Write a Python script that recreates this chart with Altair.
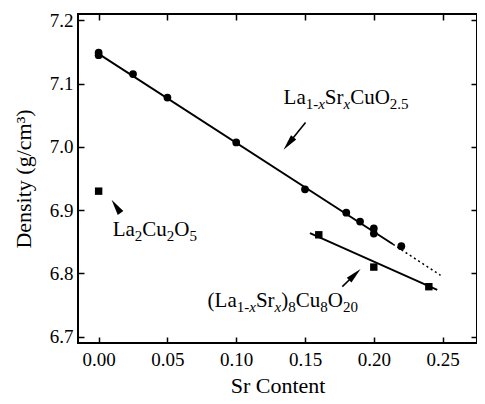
import math
import altair as alt
import pandas as pd

# ---------------- data ----------------
circ_x = [0.0, 0.0, 0.025, 0.05, 0.10, 0.15, 0.18, 0.19, 0.20, 0.20, 0.22]
circ_y = [7.149, 7.145, 7.115, 7.078, 7.007, 6.933, 6.896, 6.882, 6.871, 6.863, 6.843]

sq_x = [0.0, 0.16, 0.20, 0.24]
sq_y = [6.930, 6.861, 6.810, 6.779]

fit1_x = [0.0, 0.214]
fit1_y = [7.147, 6.846]
dot_x = [0.214, 0.2485]
dot_y = [6.846, 6.797]
fit2_x = [0.1536, 0.2461]
fit2_y = [6.8638, 6.7738]

x_ticks = [0.0, 0.05, 0.10, 0.15, 0.20, 0.25]
y_ticks = [6.7, 6.8, 6.9, 7.0, 7.1, 7.2]

# arrows: tail -> tip (data coords)
arrow_tail_x = [0.1504, 0.0153, 0.1771]
arrow_tail_y = [7.0385, 6.8975, 6.779]
arrow_tip_x = [0.1344, 0.0094, 0.1904]
arrow_tip_y = [6.9954, 6.9164, 6.807]

# labels (segments: text, kind) ; anchors in data coords (left / baseline)
label_x = [0.1344, 0.0102, 0.0792]
label_y = [7.068, 6.8596, 6.7474]
label_segments = [
    [("La", "main"), ("1-", "sub"), ("x", "subit"), ("Sr", "main"), ("x", "subit"),
     ("CuO", "main"), ("2.5", "sub")],
    [("La", "main"), ("2", "sub"), ("Cu", "main"), ("2", "sub"), ("O", "main"), ("5", "sub")],
    [("(La", "main"), ("1-", "sub"), ("x", "subit"), ("Sr", "main"), ("x", "subit"),
     (")", "main"), ("8", "sub"), ("Cu", "main"), ("8", "sub"), ("O", "main"), ("20", "sub")],
]

# ---------------- geometry ----------------
XMIN, XMAX = -0.015, 0.275
YMIN, YMAX = 6.69, 7.21
W, H = 399, 329
PX = W / (XMAX - XMIN)
PY = H / (YMAX - YMIN)

FONT = "Liberation Serif"
MAIN_FS = 21
SUB_FS = 15
SUB_DY = 5

# Times / Liberation Serif advance widths (em)
WID = {"L": .611, "a": .444, "S": .556, "r": .333, "C": .667, "u": .5, "O": .722,
       ".": .25, "-": .333, "(": .333, ")": .333, "x": .444}
for d in "0123456789":
    WID[d] = .5


def text_width(s, fs):
    return sum(WID.get(c, .5) for c in s) * fs


rows = []
for lx, ly, segs in zip(label_x, label_y, label_segments):
    cum = 0.0
    for txt, kind in segs:
        fs = MAIN_FS if kind == "main" else SUB_FS
        rows.append({"x": lx + cum / PX, "y": ly, "t": txt, "kind": kind})
        cum += text_width(txt, fs)
seg_df = pd.DataFrame(rows)

HEAD_L = 16
heads, shafts = [], []
for tx, ty, px_, py_ in zip(arrow_tail_x, arrow_tail_y, arrow_tip_x, arrow_tip_y):
    dx = (px_ - tx) * PX
    dy = -(py_ - ty) * PY
    n = math.hypot(dx, dy)
    ux, uy = dx / n, dy / n
    cx = px_ - (HEAD_L / 2) * ux / PX
    cy = py_ + (HEAD_L / 2) * uy / PY
    ang = math.degrees(math.atan2(ux, -uy)) % 360
    heads.append({"x": cx, "y": cy, "a": ang})
    shafts.append({"x": tx, "y": ty, "x2": cx, "y2": cy})
head_df = pd.DataFrame(heads)
shaft_df = pd.DataFrame(shafts)

xs = alt.Scale(domain=[XMIN, XMAX], nice=False, zero=False)
ys = alt.Scale(domain=[YMIN, YMAX], nice=False, zero=False)

common = dict(domain=False, grid=False, tickSize=6, offset=-6, tickWidth=1.5,
              tickColor="black", labelFont=FONT, labelColor="black",
              titleFont=FONT, titleColor="black", titleFontWeight="normal")

x_bottom = alt.Axis(values=x_ticks, format=".2f", labelFontSize=19, labelPadding=7,
                    titleFontSize=22, titlePadding=23, titleBaseline="alphabetic", **common)
y_left = alt.Axis(values=y_ticks, format=".1f", labelFontSize=19, labelPadding=5,
                  titleFontSize=22, titlePadding=14, **common)
x_top = alt.Axis(orient="top", values=x_ticks, labels=False, **common)
y_right = alt.Axis(orient="right", values=y_ticks, labels=False, **common)

circ_df = pd.DataFrame({"x": circ_x, "y": circ_y})
sq_df = pd.DataFrame({"x": sq_x, "y": sq_y})
f1 = pd.DataFrame({"x": fit1_x, "y": fit1_y})
fd = pd.DataFrame({"x": dot_x, "y": dot_y})
f2 = pd.DataFrame({"x": fit2_x, "y": fit2_y})


def X(axis=None, title=None):
    if axis is None:
        return alt.X("x:Q", scale=xs, axis=None)
    return alt.X("x:Q", scale=xs, axis=axis, title=title)


def Y(axis=None, title=None):
    if axis is None:
        return alt.Y("y:Q", scale=ys, axis=None)
    return alt.Y("y:Q", scale=ys, axis=axis, title=title)


circles = alt.Chart(circ_df).mark_circle(size=60, color="black", opacity=1).encode(
    x=X(x_bottom, "Sr Content"), y=Y(y_left, "Density (g/cm³)"))
squares = alt.Chart(sq_df).mark_square(size=55, color="black", opacity=1).encode(
    x=X(x_top, None), y=Y(y_right, None))
line1 = alt.Chart(f1).mark_line(color="black", strokeWidth=1.9).encode(x=X(), y=Y())
line_dot = alt.Chart(fd).mark_line(color="black", strokeWidth=1.5, strokeDash=[2, 3]).encode(x=X(), y=Y())
line2 = alt.Chart(f2).mark_line(color="black", strokeWidth=1.9).encode(x=X(), y=Y())

shaft = alt.Chart(shaft_df).mark_rule(color="black", strokeWidth=1.6).encode(
    x=X(), y=Y(), x2="x2:Q", y2="y2:Q")
head = alt.Chart(head_df).mark_point(
    shape="M0,-1L0.42,1L-0.42,1Z", filled=True, color="black", opacity=1,
    size=HEAD_L * HEAD_L, strokeWidth=0).encode(
    x=X(), y=Y(), angle=alt.Angle("a:Q", scale=None))


def seg_layer(kind, fs, dy, style):
    return alt.Chart(seg_df[seg_df.kind == kind]).mark_text(
        font=FONT, fontSize=fs, dy=dy, align="left", baseline="alphabetic",
        fontStyle=style, color="black").encode(x=X(), y=Y(), text="t:N")


txt_main = seg_layer("main", MAIN_FS, 0, "normal")
txt_sub = seg_layer("sub", SUB_FS, SUB_DY, "normal")
txt_subit = seg_layer("subit", SUB_FS, SUB_DY, "italic")

chart = alt.layer(
    line1, line_dot, line2, circles, squares, shaft, head, txt_main, txt_sub, txt_subit
).resolve_axis(x="independent", y="independent").properties(
    width=W, height=H,
    padding={"left": 70, "top": 6, "right": 0, "bottom": 53},
    autosize="none",
).configure_view(stroke="black", strokeWidth=2)

chart.save("out.html", embed_options={"renderer": "svg", "actions": False})
